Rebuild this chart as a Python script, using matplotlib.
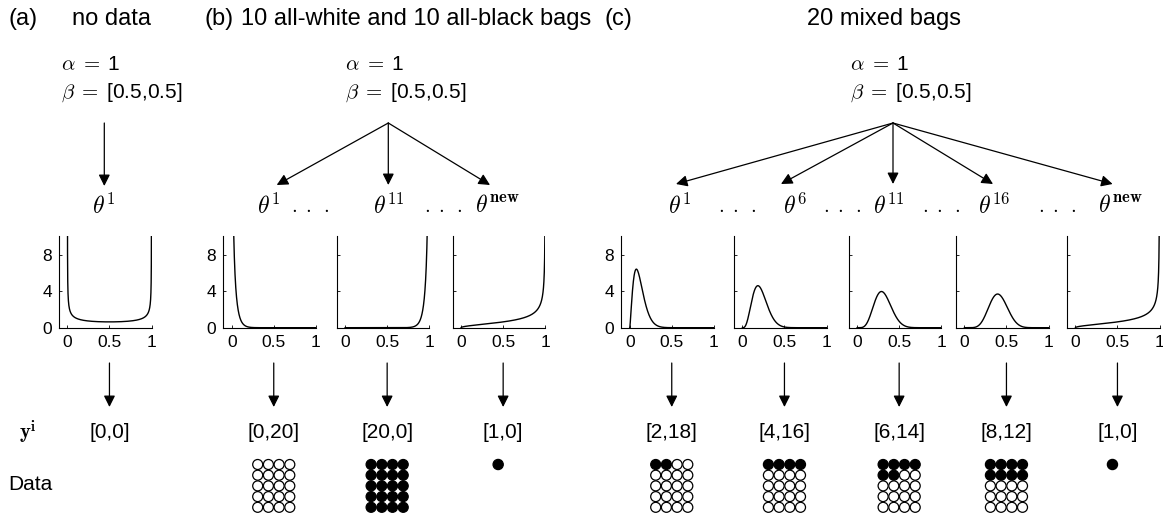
import math
import numpy as np
import matplotlib
matplotlib.use("Agg")
import matplotlib.pyplot as plt
from matplotlib.patches import Circle

plt.rcParams['font.family'] = ['Liberation Sans', 'DejaVu Sans']
plt.rcParams['mathtext.fontset'] = 'cm'

# ---------------- data ----------------
prior_alpha = 1
prior_beta = [0.5, 0.5]
panel_letters = ['(a)', '(b)', '(c)']
panel_titles = ['no data', '10 all-white and 10 all-black bags', '20 mixed bags']
bag_names_a = ['1']
bag_names_b = ['1', '11', 'new']
bag_names_c = ['1', '6', '11', '16', 'new']
counts_a = [[0, 0]]
counts_b = [[0, 20], [20, 0], [1, 0]]
counts_c = [[2, 18], [4, 16], [6, 14], [8, 12], [1, 0]]
x_ticks = [0, 0.5, 1]
x_tick_labels = ['0', '0.5', '1']
y_ticks = [0, 4, 8]
y_tick_labels = ['0', '4', '8']

# ---------------- layout (pixels) ----------------
W, H = 1163, 514
fig = plt.figure(figsize=(W / 100, H / 100), dpi=100)
ov = fig.add_axes([0, 0, 1, 1])
ov.set_xlim(0, W)
ov.set_ylim(H, 0)
ov.axis('off')

panels = [
    dict(letter_x=8, title_x=72, title_ha='left', ab_x=61, apex=(104.3, 123),
         lefts=[59], tips=[(104.3, 186)], theta_x=[104], dots_x=[],
         names=bag_names_a, counts=counts_a),
    dict(letter_x=205, title_x=240.7, title_ha='left', ab_x=345, apex=(388.3, 123),
         lefts=[223.3, 336.7, 452.7], tips=[(276.7, 185), (388.3, 185), (490, 185)],
         theta_x=[268.5, 389, 497], dots_x=[310, 443],
         names=bag_names_b, counts=counts_b),
    dict(letter_x=604, title_x=884, title_ha='center', ab_x=850, apex=(893, 123),
         lefts=[621.3, 734, 848.7, 956, 1067],
         tips=[(676, 184), (781, 184), (893, 184), (993, 184), (1112.6, 184)],
         theta_x=[680, 795, 889, 994, 1120], dots_x=[737, 842, 941, 1057],
         names=bag_names_c, counts=counts_c),
]

ax_w, ax_top, ax_bot = 92.5, 236.5, 327.7
title_y, alpha_y, beta_y, theta_y = 19, 65, 93, 206
arr_top, arr_bot, label_y = 363, 407, 432
grid_top, cell = 464.5, 10.7
XMIN, XMAX = -0.1, 1.0

t = np.concatenate([np.geomspace(1e-8, 0.01, 300),
                    np.linspace(0.01, 0.99, 1200),
                    1 - np.geomspace(0.01, 1e-8, 300)])


def beta_pdf(x, a, b):
    lb = math.lgamma(a) + math.lgamma(b) - math.lgamma(a + b)
    return np.exp((a - 1) * np.log(x) + (b - 1) * np.log1p(-x) - lb)


arrow_kw = dict(arrowstyle='-|>,head_length=0.4,head_width=0.2', color='black',
                lw=0.9, shrinkA=0, shrinkB=0, mutation_scale=17)

for p_i, p in enumerate(panels):
    ov.text(p['letter_x'], title_y, panel_letters[p_i], fontsize=17, ha='left', va='center')
    ov.text(p['title_x'], title_y, panel_titles[p_i], fontsize=17, ha=p['title_ha'], va='center')
    ov.text(p['ab_x'], alpha_y, r'$\alpha\;=\;$%d' % prior_alpha, fontsize=15, ha='left', va='center')
    ov.text(p['ab_x'], beta_y, r'$\beta\;=\;$[%s,%s]' % (prior_beta[0], prior_beta[1]),
            fontsize=15, ha='left', va='center')
    for tip in p['tips']:
        ov.annotate('', xy=tip, xytext=p['apex'], arrowprops=arrow_kw)
    for name, tx in zip(p['names'], p['theta_x']):
        ov.text(tx, theta_y, r'$\theta^{\mathbf{%s}}$' % name, fontsize=17, ha='center', va='center')
    for dx in p['dots_x']:
        ov.text(dx, theta_y + 2, r'$\cdot\;\cdot\;\cdot$', fontsize=15, ha='center', va='center')

    for k, (left, cnt) in enumerate(zip(p['lefts'], p['counts'])):
        ax = fig.add_axes([left / W, (H - ax_bot) / H, ax_w / W, (ax_bot - ax_top) / H])
        a_post = prior_alpha * prior_beta[0] + cnt[0]
        b_post = prior_alpha * prior_beta[1] + cnt[1]
        ax.plot(t, beta_pdf(t, a_post, b_post), color='black', lw=1.0)
        ax.set_xlim(XMIN, XMAX)
        ax.set_ylim(0, 10)
        for s in ['top', 'right']:
            ax.spines[s].set_visible(False)
        for s in ['left', 'bottom']:
            ax.spines[s].set_linewidth(0.8)
        ax.set_xticks(x_ticks)
        ax.set_xticklabels(x_tick_labels)
        ax.set_yticks(y_ticks)
        if k == 0:
            ax.set_yticklabels(y_tick_labels)
        else:
            ax.set_yticklabels([])
        ax.tick_params(direction='in', length=2.5, width=0.6, labelsize=12.5, pad=5)
        ax.patch.set_alpha(0)

        # arrow from plot to counts, at theta = 0.5
        cx = left + (0.5 - XMIN) / (XMAX - XMIN) * ax_w
        ov.annotate('', xy=(cx, arr_bot), xytext=(cx, arr_top), arrowprops=arrow_kw)
        ov.text(cx, label_y, '[%d,%d]' % (cnt[0], cnt[1]), fontsize=15, ha='center', va='center')

        n = cnt[0] + cnt[1]
        if n == 1:
            ov.add_patch(Circle((cx - 5, grid_top), 5.1, facecolor='black',
                                edgecolor='black', lw=0.9))
        elif n > 1:
            ncol = 4
            for idx in range(n):
                r, c = divmod(idx, ncol)
                xx = cx + (c - (ncol - 1) / 2) * cell
                yy = grid_top + r * cell
                fc = 'black' if idx < cnt[0] else 'white'
                ov.add_patch(Circle((xx, yy), 5.0, facecolor=fc, edgecolor='black', lw=0.9))

ov.text(28, label_y, r'$\mathbf{y}^{\mathbf{i}}$', fontsize=15, ha='center', va='center')
ov.text(8, 485, 'Data', fontsize=15, ha='left', va='center')

fig.savefig('out.png', dpi=100)
